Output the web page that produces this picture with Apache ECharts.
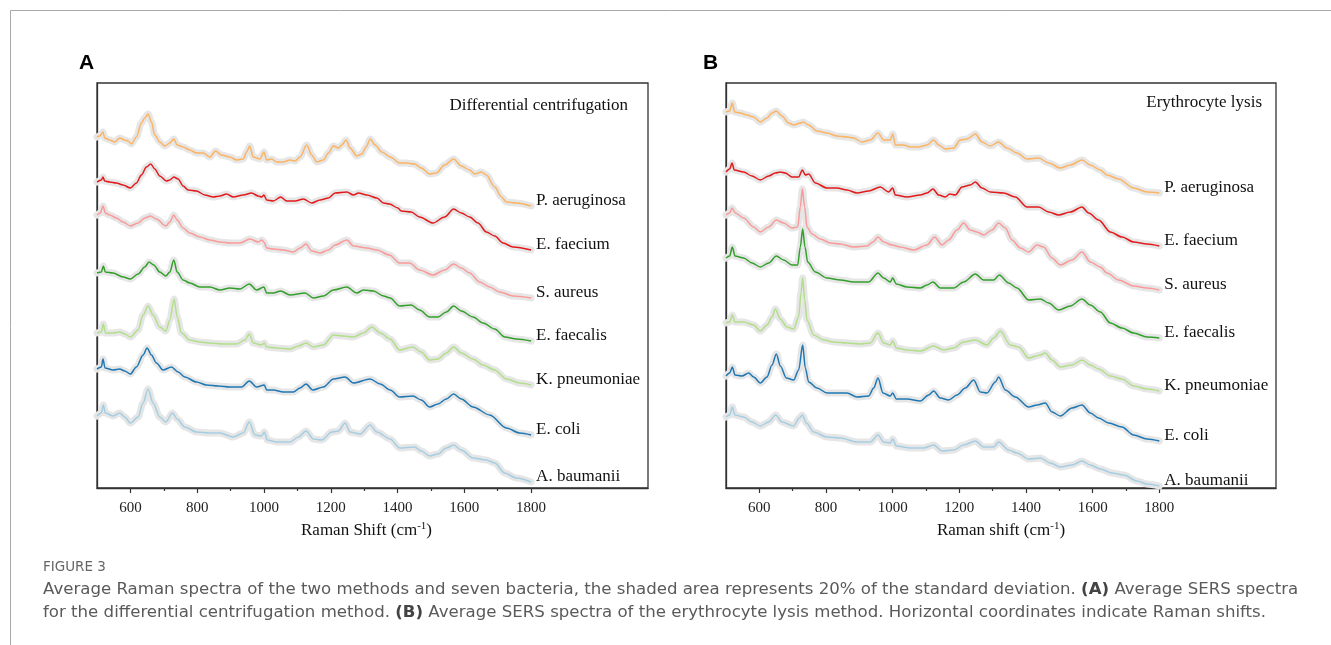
<!DOCTYPE html>
<html>
<head>
<meta charset="utf-8">
<script src="https://cdn.jsdelivr.net/npm/echarts@6.0.0/dist/echarts.min.js"></script>
<style>
  html, body { margin: 0; padding: 0; background: #fff; }
  #chart { width: 1331px; height: 645px; }
</style>
</head>
<body>
<div id="chart"></div>
<script>
// names and colours, top to bottom
const bacteria = ['P. aeruginosa', 'E. faecium', 'S. aureus', 'E. faecalis', 'K. pneumoniae', 'E. coli', 'A. baumanii'];
const colors = ['#fdb462', '#e31a1c', '#fb9a99', '#33a02c', '#b2df8a', '#1f78b4', '#a6cee3'];

const labelTicks = [600, 800, 1000, 1200, 1400, 1600, 1800];
const minorTicks = [700, 900, 1100, 1300, 1500, 1700];
const xMin = 500;
const xMax = 2150;

// panel A: differential centrifugation, [Raman shift, offset intensity]
const aPaeruginosa = [[500,351],[508,352],[518,356],[523,350],[538,348],[553,346],[568,350],[583,348],[593,347],[603,344],[618,351],[633,365],[643,370],[653,374],[663,366],[673,353],[688,346],[703,342],[718,345],[730,349],[740,343],[758,341],[778,338],[798,335],[818,335],[838,331],[855,337],[873,333],[898,331],[918,328],[938,329],[948,336],[957,342],[968,331],[988,329],[1000,336],[1008,328],[1023,329],[1038,326],[1058,326],[1078,328],[1093,327],[1108,331],[1128,343],[1143,333],[1158,326],[1178,328],[1193,335],[1208,342],[1223,340],[1233,343],[1246,348],[1258,340],[1278,332],[1293,334],[1306,341],[1318,349],[1333,343],[1353,336],[1378,331],[1406,325],[1426,325],[1451,324],[1471,320],[1496,314],[1516,315],[1541,323],[1568,329],[1591,322],[1616,318],[1631,314],[1651,316],[1666,313],[1691,301],[1711,291],[1726,286],[1756,285],[1800,282]];
const aEfaecium = [[500,306],[513,308],[518,311],[523,307],[538,306],[558,305],[578,303],[600,300],[618,305],[633,313],[648,321],[661,324],[673,319],[688,312],[708,307],[718,308],[730,311],[743,309],[758,302],[773,298],[798,297],[823,293],[848,291],[868,292],[888,294],[908,291],[938,293],[963,295],[983,292],[993,291],[1000,293],[1008,288],[1028,287],[1050,291],[1068,287],[1093,287],[1118,289],[1143,285],[1168,288],[1193,290],[1213,295],[1248,296],[1268,293],[1283,295],[1308,293],[1338,290],[1358,285],[1376,284],[1401,280],[1411,277],[1441,276],[1466,271],[1506,265],[1541,271],[1568,279],[1591,275],[1616,271],[1641,265],[1666,256],[1691,252],[1716,245],[1746,241],[1800,238]];
const aSaureus = [[500,273],[510,275],[518,282],[525,275],[538,273],[558,270],[578,266],[600,262],[623,265],[643,270],[660,272],[678,269],[706,262],[718,266],[730,273],[740,268],[758,260],[778,255],[808,251],[838,248],[868,246],[898,245],[928,245],[958,249],[983,246],[993,248],[1000,246],[1008,240],[1028,239],[1058,238],[1088,236],[1108,240],[1126,244],[1143,237],[1168,235],[1193,238],[1213,243],[1248,248],[1268,242],[1308,240],[1338,238],[1376,233],[1406,225],[1436,225],[1466,218],[1506,213],[1541,218],[1568,224],[1591,220],[1616,215],[1646,206],[1676,201],[1706,196],[1746,192],[1800,190]];
const aEfaecalis = [[500,215],[513,216],[519,222],[525,216],[548,215],[578,211],[600,209],[623,214],[643,221],[656,226],[670,223],[688,216],[706,212],[718,216],[730,228],[740,216],[758,208],[778,205],[808,201],[838,201],[868,198],[898,200],[928,199],[956,204],[978,198],[1000,201],[1008,195],[1028,195],[1050,197],[1078,193],[1123,195],[1148,190],[1178,192],[1208,198],[1248,201],[1278,195],[1298,198],[1328,197],[1358,192],[1378,190],[1406,182],[1441,183],[1466,178],[1496,171],[1521,171],[1546,176],[1568,182],[1591,177],[1626,171],[1656,165],[1691,159],[1721,151],[1756,149],[1800,147]];
const aKpneumoniae = [[500,155],[513,156],[519,164],[525,155],[548,155],[568,156],[583,154],[600,151],[623,158],[638,173],[653,182],[668,173],[688,161],[706,157],[718,168],[731,189],[740,171],[753,155],[778,148],[808,146],[838,145],[878,144],[918,144],[943,148],[956,154],[968,145],[993,143],[1001,145],[1008,141],[1038,140],[1078,139],[1103,142],[1126,145],[1148,141],[1178,143],[1208,153],[1238,152],[1268,151],[1298,155],[1323,161],[1348,155],[1378,149],[1406,138],[1446,141],[1471,136],[1496,128],[1521,129],[1546,135],[1568,141],[1591,135],[1626,129],[1656,123],[1691,118],[1726,109],[1766,105],[1800,103]];
const aEcoli = [[500,119],[513,121],[518,129],[524,120],[548,118],[568,119],[583,117],[600,114],[618,121],[638,133],[650,140],[663,133],[678,125],[698,118],[723,121],[743,116],[763,111],[798,106],[828,103],[863,102],[898,101],[933,101],[956,107],[978,101],[1001,103],[1008,98],[1028,98],[1058,96],[1088,96],[1108,100],[1126,104],[1146,98],[1178,101],[1208,109],[1243,111],[1268,105],[1318,109],[1348,104],[1378,98],[1406,91],[1446,92],[1471,88],[1496,81],[1521,84],[1546,89],[1568,94],[1591,89],[1626,81],[1676,73],[1726,60],[1766,55],[1800,53]];
const aAbaumanii = [[500,72],[513,75],[519,83],[525,75],[548,72],[568,75],[583,71],[600,65],[623,71],[638,85],[653,99],[668,85],[688,71],[706,66],[726,75],[740,69],[763,61],[798,56],[838,55],[868,55],[908,51],[938,55],[956,66],[973,53],[993,52],[1001,56],[1010,48],[1038,46],[1078,46],[1103,51],[1126,57],[1148,49],[1173,48],[1203,56],[1223,57],[1243,65],[1258,56],[1288,54],[1318,63],[1338,56],[1378,49],[1406,40],[1451,41],[1471,37],[1496,32],[1521,34],[1546,40],[1568,43],[1591,38],[1626,30],[1666,28],[1691,25],[1721,15],[1756,10],[1800,6]];

// panel B: erythrocyte lysis
const bPaeruginosa = [[500,376],[511,377],[519,385],[526,376],[543,375],[563,373],[583,371],[603,366],[623,370],[638,375],[651,377],[668,372],[688,365],[703,363],[723,365],[731,366],[748,363],[773,357],[803,355],[833,352],[863,351],[883,350],[908,346],[933,348],[956,355],[973,348],[993,348],[1000,354],[1008,343],[1033,343],[1053,341],[1078,341],[1103,343],[1123,348],[1138,343],[1158,339],[1183,340],[1203,348],[1223,349],[1248,354],[1268,346],[1293,342],[1318,346],[1343,340],[1373,335],[1403,329],[1438,330],[1468,325],[1503,320],[1533,323],[1568,328],[1593,323],[1623,318],[1643,313],[1678,309],[1723,300],[1763,296],[1800,295]];
const bEfaecium = [[500,316],[511,319],[518,325],[525,318],[553,316],[578,312],[603,308],[628,312],[648,315],[663,316],[678,315],[698,311],[718,311],[729,318],[738,313],[748,314],[768,305],[803,300],[833,300],[863,298],[893,295],[928,297],[963,301],[988,296],[1000,300],[1008,293],[1043,291],[1083,293],[1103,295],[1121,299],[1138,293],[1158,291],[1171,294],[1188,293],[1208,301],[1233,303],[1248,306],[1268,300],[1293,296],[1333,295],[1368,291],[1403,281],[1438,281],[1468,276],[1498,273],[1533,276],[1568,281],[1588,275],[1618,268],[1653,256],[1688,251],[1723,246],[1763,244],[1800,242]];
const bSaureus = [[500,273],[511,275],[518,280],[528,275],[553,270],[583,261],[603,256],[628,261],[651,268],[673,265],[698,260],[715,261],[723,281],[729,299],[736,281],[743,261],[758,254],[783,249],[813,245],[843,244],[883,241],[923,242],[941,246],[956,251],[973,246],[998,243],[1023,241],[1063,238],[1103,243],[1126,251],[1148,243],[1168,248],[1193,258],[1213,265],[1233,258],[1253,256],[1273,253],[1298,258],[1318,265],[1338,260],[1358,248],[1383,240],[1408,236],[1433,243],[1453,241],[1478,230],[1503,223],[1538,228],[1568,236],[1593,226],[1623,221],[1643,215],[1678,208],[1723,202],[1763,200],[1800,198]];
const bEfaecalis = [[500,230],[511,232],[519,241],[527,232],[553,230],[578,225],[603,221],[628,225],[651,232],[673,228],[698,223],[715,223],[723,241],[730,259],[737,241],[745,226],[768,216],[803,210],[843,208],[883,206],[928,206],[956,215],[973,210],[993,206],[1000,210],[1011,204],[1043,201],[1083,200],[1103,203],[1121,206],[1143,200],[1183,200],[1213,206],[1248,214],[1273,208],[1303,208],[1320,213],[1348,205],[1373,200],[1408,188],[1443,189],[1468,185],[1498,178],[1533,182],[1568,189],[1593,183],[1623,176],[1653,165],[1688,160],[1723,155],[1763,151],[1800,150]];
const bKpneumoniae = [[500,165],[511,166],[519,173],[527,166],[553,166],[583,163],[603,157],[623,163],[638,171],[648,179],[663,169],[683,161],[703,159],[718,171],[725,195],[730,210],[736,188],[743,168],[763,153],[793,148],[823,146],[863,145],[903,144],[933,145],[956,155],[973,145],[993,143],[1000,147],[1011,140],[1043,138],[1083,137],[1123,142],[1153,138],[1183,140],[1213,146],[1248,148],[1283,143],[1303,150],[1323,157],[1353,143],[1378,141],[1408,130],[1443,133],[1458,135],[1478,128],[1503,121],[1538,123],[1568,128],[1593,123],[1618,119],[1653,112],[1688,109],[1723,102],[1763,99],[1800,97]];
const bEcoli = [[500,112],[511,115],[519,121],[527,113],[548,112],[568,115],[583,111],[603,105],[623,111],[638,123],[651,134],[663,122],[681,110],[703,108],[718,118],[730,143],[738,120],[748,106],[773,100],[803,95],[833,95],[863,95],[893,91],[928,92],[943,100],[956,110],[971,95],[993,92],[1000,95],[1011,89],[1043,89],[1083,87],[1108,93],[1123,97],[1143,90],[1168,88],[1193,93],[1218,100],[1243,108],[1263,96],[1283,95],[1308,106],[1318,111],[1338,98],[1368,91],[1408,81],[1433,83],[1458,85],[1478,76],[1503,72],[1538,80],[1568,83],[1593,75],[1618,70],[1648,65],[1688,61],[1723,53],[1763,49],[1800,47]];
const bAbaumanii = [[500,71],[511,73],[519,81],[527,73],[553,71],[578,66],[603,62],[628,66],[649,73],[668,66],[703,62],[720,70],[729,73],[741,65],[763,56],[803,51],[843,50],[893,46],[933,46],[956,53],[973,46],[993,45],[1000,49],[1011,42],[1053,40],[1093,40],[1123,43],[1148,37],[1183,38],[1213,43],[1248,47],[1273,41],[1303,41],[1318,46],[1348,38],[1373,35],[1408,29],[1443,30],[1473,25],[1503,21],[1538,23],[1568,27],[1593,23],[1623,19],[1658,15],[1693,13],[1733,7],[1763,4],[1800,2]];

const spectraA = [aPaeruginosa, aEfaecium, aSaureus, aEfaecalis, aKpneumoniae, aEcoli, aAbaumanii];
const spectraB = [bPaeruginosa, bEfaecium, bSaureus, bEfaecalis, bKpneumoniae, bEcoli, bAbaumanii];

const serif = '"Liberation Serif", "Times New Roman", serif';
const sans = '"Liberation Sans", Arial, sans-serif';
const captionFont = '"DejaVu Sans", sans-serif';
const frame = '#333';

function mainXAxis(gridIndex, title, namePad) {
  return {
    type: 'value', gridIndex: gridIndex, position: 'bottom', min: xMin, max: xMax,
    name: '{t|' + title + ' (cm}{s|-1}{t|)}',
    nameLocation: 'middle', nameGap: 32,
    nameTextStyle: {
      padding: namePad,
      rich: {
        t: { fontFamily: serif, fontSize: 17, color: '#111', lineHeight: 20 },
        s: { fontFamily: serif, fontSize: 11, color: '#111', lineHeight: 11, verticalAlign: 'top' }
      }
    },
    axisLine: { show: true, onZero: false, lineStyle: { color: frame, width: 1.3 } },
    axisTick: { show: true, customValues: labelTicks, length: 5, lineStyle: { color: frame, width: 1.2 } },
    axisLabel: {
      customValues: labelTicks, fontFamily: serif, fontSize: 15, color: '#222', margin: 13,
      formatter: function (v) { return String(v); }
    },
    splitLine: { show: false }
  };
}

function minorXAxis(gridIndex) {
  return {
    type: 'value', gridIndex: gridIndex, position: 'bottom', min: xMin, max: xMax,
    axisLine: { show: false, onZero: false },
    axisTick: { show: true, customValues: minorTicks, length: 3, lineStyle: { color: frame, width: 1.2 } },
    axisLabel: { show: false },
    splitLine: { show: false }
  };
}

function yAxis(gridIndex) {
  return {
    type: 'value', gridIndex: gridIndex, min: 0, max: 405,
    axisLine: { show: true, lineStyle: { color: frame, width: 1.3 } },
    axisTick: { show: false }, axisLabel: { show: false }, splitLine: { show: false }
  };
}

function panelSeries(spectra, xAxisIndex, yAxisIndex) {
  const out = [];
  // grey band (shaded std) drawn first
  spectra.forEach(function (data) {
    out.push({
      type: 'line', xAxisIndex: xAxisIndex, yAxisIndex: yAxisIndex, data: data,
      symbol: 'none', smooth: 0.3, smoothMonotone: 'x', silent: true, z: 1,
      lineStyle: { color: '#e6e6e6', width: 7, join: 'round', cap: 'round' }
    });
  });
  spectra.forEach(function (data, i) {
    out.push({
      name: bacteria[i], type: 'line', xAxisIndex: xAxisIndex, yAxisIndex: yAxisIndex, data: data,
      symbol: 'none', smooth: 0.3, smoothMonotone: 'x', silent: true, z: 3,
      lineStyle: { color: colors[i], width: 1.5 },
      endLabel: {
        show: true, formatter: bacteria[i], distance: 5, offset: [0, -5],
        fontFamily: serif, fontSize: 17, color: '#111'
      }
    });
  });
  return out;
}

const chart = echarts.init(document.getElementById('chart'));

const option = {
  animation: false,
  backgroundColor: '#fff',
  grid: [
    { left: 97, top: 83, width: 551, height: 405, show: true, borderColor: frame, borderWidth: 1.3 },
    { left: 726, top: 83, width: 550, height: 405, show: true, borderColor: frame, borderWidth: 1.3 }
  ],
  xAxis: [mainXAxis(0, 'Raman Shift', [0, 12, 0, 0]), minorXAxis(0), mainXAxis(1, 'Raman shift', 0), minorXAxis(1)],
  yAxis: [yAxis(0), yAxis(1)],
  series: panelSeries(spectraA, 0, 0).concat(panelSeries(spectraB, 2, 1)),
  graphic: [
    { type: 'line', shape: { x1: 10.5, y1: 10.5, x2: 1331, y2: 10.5 }, style: { stroke: '#a9a9a9', lineWidth: 1 } },
    { type: 'line', shape: { x1: 10.5, y1: 10.5, x2: 10.5, y2: 645 }, style: { stroke: '#a9a9a9', lineWidth: 1 } },
    { type: 'text', x: 79, y: 63, style: { text: 'A', font: 'bold 21px ' + sans, fill: '#000', align: 'left', verticalAlign: 'middle' } },
    { type: 'text', x: 703, y: 63, style: { text: 'B', font: 'bold 21px ' + sans, fill: '#000', align: 'left', verticalAlign: 'middle' } },
    { type: 'text', x: 628, y: 106, style: { text: 'Differential centrifugation', font: '17px ' + serif, fill: '#111', align: 'right', verticalAlign: 'middle' } },
    { type: 'text', x: 1262, y: 103, style: { text: 'Erythrocyte lysis', font: '17px ' + serif, fill: '#111', align: 'right', verticalAlign: 'middle' } },
    { type: 'text', x: 43, y: 567, style: { text: 'FIGURE 3', font: '13.5px ' + captionFont, fill: '#666', align: 'left', verticalAlign: 'middle' } },
    { type: 'text', x: 43, y: 590, style: {
      text: 'Average Raman spectra of the two methods and seven bacteria, the shaded area represents 20% of the standard deviation. {b|(A)} Average SERS spectra',
      font: '16.6px ' + captionFont, fill: '#5a5a5a', align: 'left', verticalAlign: 'middle',
      rich: { b: { fontWeight: 'bold', fontFamily: 'DejaVu Sans', fontSize: 16.6, fill: '#444' } }
    } },
    { type: 'text', x: 43, y: 613, style: {
      text: 'for the differential centrifugation method. {b|(B)} Average SERS spectra of the erythrocyte lysis method. Horizontal coordinates indicate Raman shifts.',
      font: '16.6px ' + captionFont, fill: '#5a5a5a', align: 'left', verticalAlign: 'middle',
      rich: { b: { fontWeight: 'bold', fontFamily: 'DejaVu Sans', fontSize: 16.6, fill: '#444' } }
    } }
  ]
};

chart.setOption(option);
</script>
</body>
</html>
